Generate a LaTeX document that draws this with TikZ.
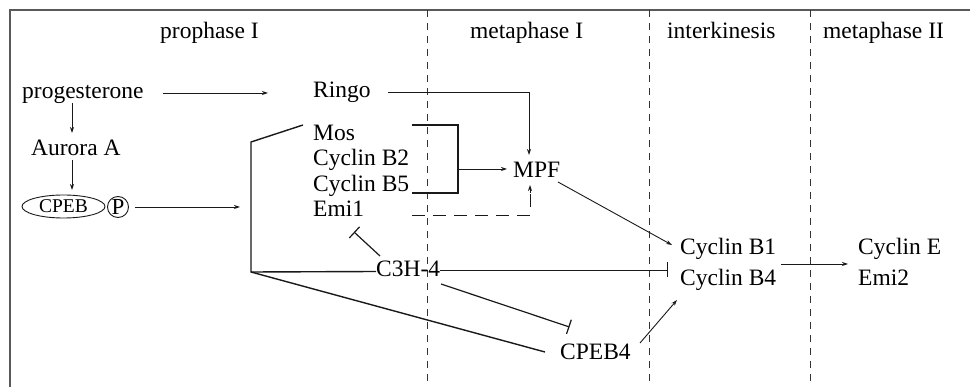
\documentclass[tikz,border=0pt]{standalone}
\usepackage{fontspec}
\setmainfont{Liberation Serif}
\usetikzlibrary{arrows.meta,shapes.geometric}
\begin{document}
\begin{tikzpicture}[x=1pt,y=-1pt,
  lbl/.style={anchor=base west, inner sep=0pt, text height=16pt, text depth=5pt, font=\fontsize{23.5}{26}\selectfont, text=black},
  thinln/.style={line width=0.9pt, draw=black!90},
  thickln/.style={line width=1.4pt, draw=black!90},
  arr/.style={thinln,-{Stealth[length=6pt,width=4pt]}},
  inh/.style={thinln,-{Bar[width=15pt,line width=1.2pt]}},
  phaseln/.style={line width=1pt, draw=black!80, dash pattern=on 7pt off 6pt},
  frameln/.style={line width=2pt, draw=black!65},
]
\useasboundingbox (0,0) rectangle (970,387);
% frame
\coordinate (f0) at (10,387); \coordinate (f1) at (10,10); \coordinate (f2) at (970,10);
\draw[frameln] (f0) -- (f1) -- (f2);
% phase separators
\coordinate (s1t) at (427,10); \coordinate (s1b) at (427,387);
\coordinate (s2t) at (649,10); \coordinate (s2b) at (649,387);
\coordinate (s3t) at (810,10); \coordinate (s3b) at (810,387);
\draw[phaseln] (s1t) -- (s1b);
\draw[phaseln] (s2t) -- (s2b);
\draw[phaseln] (s3t) -- (s3b);
% headers
\node[lbl] (h1) at (160,39) {prophase I};
\node[lbl] (h2) at (470,39) {metaphase I};
\node[lbl] (h3) at (667,39) {interkinesis};
\node[lbl] (h4) at (823,39) {metaphase II};
% labels
\node[lbl] (prog) at (22,99) {progesterone};
\node[lbl] (ringo) at (313,98) {Ringo};
\node[lbl] (aur) at (31,156) {Aurora A};
\node[lbl] (mos) at (313,141) {Mos};
\node[lbl] (b2) at (313,166) {Cyclin B2};
\node[lbl] (b5) at (313,192) {Cyclin B5};
\node[lbl] (emi1) at (313,217) {Emi1};
\node[lbl] (mpf) at (513,178) {MPF};
\node[lbl] (c3h) at (376,277) {C3H-4};
\node[lbl] (b1) at (680,255) {Cyclin B1};
\node[lbl] (b4) at (680,286) {Cyclin B4};
\node[lbl] (ce) at (858,255) {Cyclin E};
\node[lbl] (emi2) at (858,286) {Emi2};
\node[lbl] (cpeb4) at (560,360) {CPEB4};
\node[draw=black!90, line width=0.9pt, ellipse, minimum width=83pt, minimum height=23pt, inner sep=0pt,
      font=\fontsize{19.5}{20}\selectfont, text=black] (cpeb) at (63.5,206.5) {CPEB};
\node[draw=black!90, line width=0.9pt, circle, minimum size=21pt, inner sep=0pt,
      font=\fontsize{23}{24}\selectfont, text=black] (pp) at (118,207) {P};
% connector points
\coordinate (pr0) at (163,93); \coordinate (pr1) at (268,93);
\coordinate (rm0) at (388,92); \coordinate (rm1) at (529,92); \coordinate (rm2) at (529,155);
\coordinate (pa0) at (72,103); \coordinate (pa1) at (72,133);
\coordinate (ac0) at (72,160); \coordinate (ac1) at (72,190);
\coordinate (cp0) at (135,207); \coordinate (cp1) at (240,207);
\coordinate (jm) at (303,125); \coordinate (jt) at (251,142); \coordinate (j) at (251,272);
\coordinate (tb) at (668,270);
\coordinate (ei0) at (380,256); \coordinate (ei1) at (354,232);
\coordinate (ci0) at (441,284); \coordinate (ci1) at (569.5,327);
\coordinate (jc) at (545,352);
\coordinate (cb0) at (640,343); \coordinate (cb1) at (677,300);
\coordinate (mb0) at (558,182); \coordinate (mb1) at (672,245);
\coordinate (br0) at (412,125); \coordinate (br1) at (458,125); \coordinate (br2) at (458,193); \coordinate (br3) at (412,193);
\coordinate (brm) at (458,169); \coordinate (brt) at (507,169);
\coordinate (dd0) at (412,215); \coordinate (dd1) at (530,215); \coordinate (dd2) at (530,185);
\coordinate (be0) at (781,264); \coordinate (be1) at (848,264);
% connectors
\draw[arr] (pr0) -- (pr1);
\draw[arr] (rm0) -- (rm1) -- (rm2);
\draw[arr] (pa0) -- (pa1);
\draw[arr] (ac0) -- (ac1);
\draw[arr] (cp0) -- (cp1);
\draw[thickln] (jm) -- (jt) -- (j) -- (c3h.west);
\draw[inh] (c3h.east |- tb) -- (tb);
\draw[thickln] (j) -- (jc);
\draw[inh, line width=1.2pt] (ei0) -- (ei1);
\draw[inh, line width=1.2pt] (ci0) -- (ci1);
\draw[arr] (cb0) -- (cb1);
\draw[arr] (mb0) -- (mb1);
\draw[thickln] (br0) -- (br1) -- (br2) -- (br3);
\draw[arr] (brm) -- (brt);
\draw[thinln, dash pattern=on 13pt off 8pt] (dd0) -- (dd1) -- ([yshift=-8pt]dd2);
\draw[arr] ([yshift=-8pt]dd2) -- (dd2);
\draw[arr] (be0) -- (be1);
\end{tikzpicture}
\end{document}
